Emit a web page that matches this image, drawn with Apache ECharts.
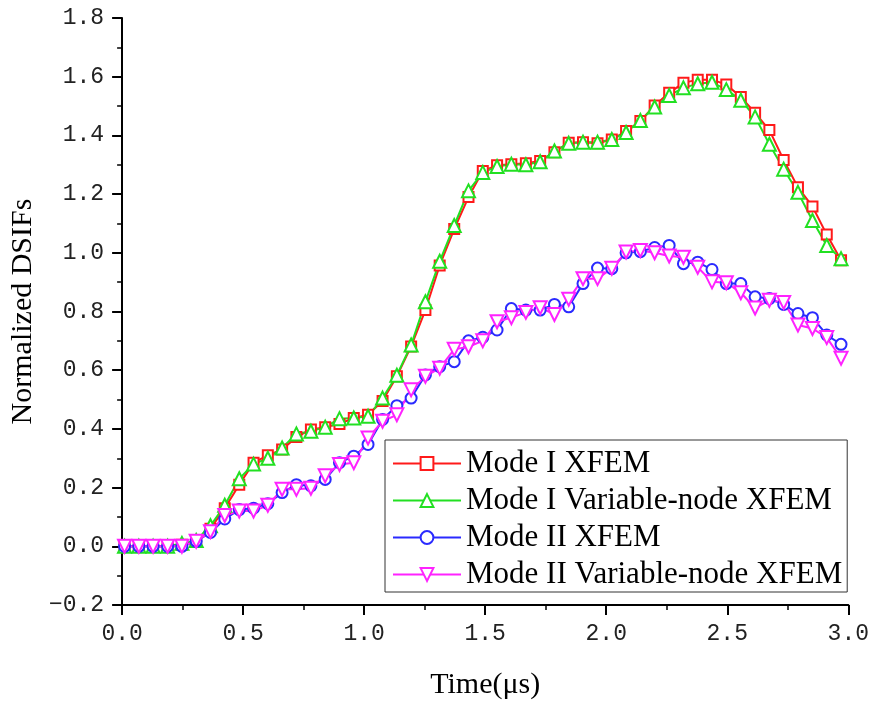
<!DOCTYPE html>
<html>
<head>
<meta charset="utf-8">
<script src="https://cdn.jsdelivr.net/npm/echarts@6/dist/echarts.min.js"></script>
<style>
html,body{margin:0;padding:0;background:#fff;}
#chart{width:872px;height:705px;}
</style>
</head>
<body>
<div id="chart"></div>
<script>
var times = [0.010,0.069,0.128,0.188,0.247,0.306,0.365,0.424,0.484,0.543,
  0.602,0.661,0.720,0.780,0.839,0.898,0.957,1.016,1.076,1.135,
  1.194,1.253,1.312,1.372,1.431,1.490,1.549,1.608,1.668,1.727,
  1.786,1.845,1.904,1.964,2.023,2.082,2.141,2.200,2.260,2.319,
  2.378,2.437,2.496,2.556,2.615,2.674,2.733,2.792,2.852,2.911,2.970];

var modeIXfem = [0.0,0.0,0.0,0.0,0.005,0.02,0.06,0.13,0.21,0.285,
  0.31,0.33,0.372,0.398,0.406,0.417,0.437,0.448,0.495,0.579,
  0.681,0.805,0.957,1.081,1.19,1.279,1.298,1.302,1.305,1.313,
  1.343,1.375,1.377,1.373,1.386,1.415,1.449,1.502,1.545,1.579,
  1.59,1.59,1.573,1.531,1.477,1.418,1.316,1.223,1.158,1.062,0.975];

var modeIVar = [0.0,0.0,0.0,0.0,0.01,0.02,0.07,0.14,0.23,0.28,
  0.30,0.335,0.383,0.392,0.406,0.435,0.437,0.443,0.505,0.583,
  0.686,0.833,0.971,1.093,1.211,1.274,1.294,1.302,1.30,1.31,
  1.347,1.373,1.377,1.377,1.386,1.41,1.451,1.497,1.536,1.562,
  1.576,1.581,1.556,1.52,1.463,1.37,1.285,1.206,1.11,1.025,0.98];

var modeIIXfem = [0.0,0.0,0.0,0.0,0.0,0.017,0.047,0.093,0.125,0.13,
  0.145,0.183,0.21,0.206,0.228,0.285,0.307,0.347,0.432,0.479,
  0.505,0.584,0.612,0.629,0.70,0.712,0.737,0.81,0.805,0.805,
  0.824,0.816,0.895,0.948,0.946,1.0,1.004,1.018,1.025,0.963,
  0.968,0.943,0.895,0.895,0.85,0.844,0.824,0.793,0.779,0.72,0.688];

var modeIIVar = [0.0,0.0,0.0,0.0,0.0,0.017,0.05,0.105,0.12,0.12,
  0.14,0.194,0.194,0.198,0.24,0.279,0.285,0.369,0.426,0.448,
  0.533,0.579,0.607,0.671,0.68,0.70,0.765,0.779,0.797,0.813,
  0.79,0.842,0.912,0.912,0.947,1.003,1.008,1.0,0.989,0.985,
  0.951,0.901,0.898,0.864,0.812,0.838,0.831,0.754,0.742,0.711,0.641];

var seriesNames = ['Mode I XFEM','Mode I Variable-node XFEM','Mode II XFEM','Mode II Variable-node XFEM'];

function pairs(ys){ return times.map(function(t,i){ return [t, ys[i]]; }); }

var chart = echarts.init(document.getElementById('chart'), null, {renderer:'canvas'});
var serif = '"Liberation Serif","Times New Roman",serif';
var mono = '"Liberation Mono","Courier New",monospace';

function mkSeries(name, ys, color, symbol, size, rotate){
  return {
    name: name, type: 'line', data: pairs(ys),
    symbol: symbol, symbolSize: size, symbolRotate: rotate || 0,
    showAllSymbol: true,
    lineStyle: {color: color, width: 2},
    itemStyle: {color: color, borderWidth: 1.3},
    emphasis: {disabled: true},
    animation: false
  };
}

chart.setOption({
  animation: false,
  backgroundColor: '#fff',
  grid: {left: 115, right: 21, top: 18, bottom: 97, containLabel: false},
  xAxis: {
    type: 'value', min: 0, max: 3, interval: 0.5,
    name: 'Time(μs)', nameLocation: 'middle', nameGap: 65,
    nameTextStyle: {fontFamily: serif, fontSize: 30, color: '#000'},
    axisLine: {show: true, onZero: false, lineStyle: {color: '#000', width: 2}},
    axisTick: {show: true, inside: false, length: 10, lineStyle: {color: '#000', width: 2}},
    minorTick: {show: true, splitNumber: 2, length: 5, lineStyle: {color: '#000', width: 1.5}},
    axisLabel: {fontFamily: mono, fontSize: 23, color: '#222', margin: 17,
      formatter: function(v){ return v.toFixed(1); }},
    splitLine: {show: false}
  },
  yAxis: {
    type: 'value', min: -0.2, max: 1.8, interval: 0.2,
    name: 'Normalized DSIFs', nameLocation: 'middle', nameGap: 66, nameRotate: 90,
    nameTextStyle: {fontFamily: serif, fontSize: 30, color: '#000'},
    axisLine: {show: true, onZero: false, lineStyle: {color: '#000', width: 2}},
    axisTick: {show: true, inside: false, length: 10, lineStyle: {color: '#000', width: 2}},
    minorTick: {show: true, splitNumber: 2, length: 5, lineStyle: {color: '#000', width: 1.5}},
    axisLabel: {fontFamily: mono, fontSize: 23, color: '#222', margin: 18,
      formatter: function(v){ return (Math.abs(v) < 1e-9 ? 0 : v).toFixed(1).replace('-', '\u2212'); }},
    splitLine: {show: false}
  },
  legend: {
    orient: 'vertical', left: 385, top: 440,
    data: seriesNames,
    itemWidth: 68, itemHeight: 16, itemGap: 6, itemTextGap: 8,
    padding: [8, 5, 2, 7],
    borderColor: '#333', borderWidth: 1, backgroundColor: '#fff',
    textStyle: {fontFamily: serif, fontSize: 31, color: '#000'},
    selectedMode: false
  },
  series: [
    mkSeries(seriesNames[0], modeIXfem, '#ff1a1a', 'emptyRect', 10),
    mkSeries(seriesNames[1], modeIVar, '#22e022', 'emptyTriangle', 13),
    mkSeries(seriesNames[2], modeIIXfem, '#2a2aff', 'emptyCircle', 11),
    mkSeries(seriesNames[3], modeIIVar, '#ff22ff', 'emptyTriangle', 13, 180)
  ]
});
</script>
</body>
</html>
